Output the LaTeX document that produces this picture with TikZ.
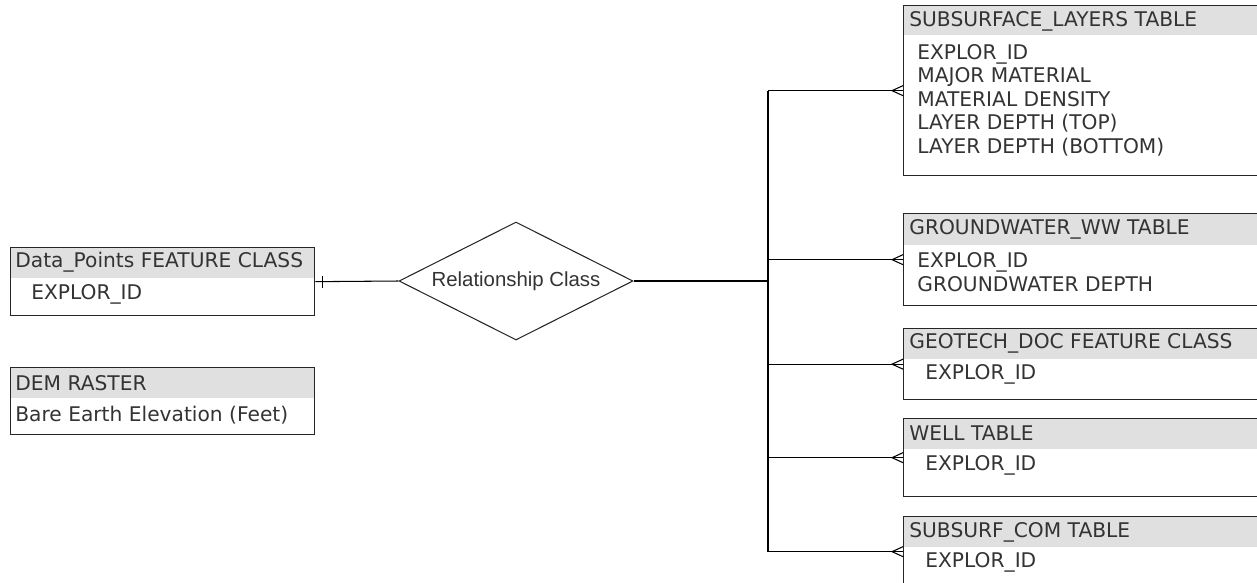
\documentclass[tikz,border=0pt]{standalone}
\usepackage{fontspec}
\usepackage{xcolor}
\usepackage{tikz}
\usetikzlibrary{shapes.geometric, positioning, calc}
\newfontfamily\tabfont{DejaVu Sans}
\newfontfamily\relfont{Liberation Sans}
\definecolor{hdrgray}{HTML}{E0E0E0}
\definecolor{txtgray}{HTML}{333333}
\definecolor{edgegray}{HTML}{262626}
\newcommand{\tfont}{\tabfont\fontsize{11.5}{13.4}\selectfont}

\begin{document}
\begin{tikzpicture}[x=0.02cm, y=-0.02cm]
    \tikzstyle{tbl} = [rectangle, draw=edgegray, line width=0.75pt, anchor=north west, inner sep=0pt]
    \tikzstyle{hdr} = [rectangle, fill=hdrgray, anchor=north west, inner sep=0pt]
    \tikzstyle{txt} = [anchor=west, inner sep=0pt, align=left, text=txtgray, font=\tfont]
    \tikzstyle{rel} = [diamond, aspect=2, draw=edgegray, line width=0.6pt, inner sep=0pt, minimum width=234*0.02cm, minimum height=118*0.02cm, text=txtgray, font=\relfont\fontsize{11.6}{13}\selectfont]
    \tikzstyle{conn} = [draw=black, line width=0.6pt]

    \path [use as bounding box, clip] (0,0) rectangle (1257,582);

    % left side
    \node (dpts-h) [hdr, minimum width=304*0.02cm, minimum height=31*0.02cm] at (10,247) {};
    \node (dpts)   [tbl, minimum width=304*0.02cm, minimum height=68*0.02cm] at (10,247) {};
    \node (dpts-t) [txt] at (15,262) {Data\_Points FEATURE CLASS};
    \node (dpts-b) [txt] at (31,294) {EXPLOR\_ID};

    \node (dem-h) [hdr, minimum width=304*0.02cm, minimum height=31*0.02cm] at (10,367) {};
    \node (dem)   [tbl, minimum width=304*0.02cm, minimum height=67*0.02cm] at (10,367) {};
    \node (dem-t) [txt] at (15,383) {DEM RASTER};
    \node (dem-b) [txt] at (15,415) {Bare Earth Elevation (Feet)};

    \node (rel) [rel] at (516,281) {Relationship Class};
    \coordinate (jn) at (768,281);

    % right side
    \node (subl-h) [hdr, minimum width=370*0.02cm, minimum height=30*0.02cm] at (903,5) {};
    \node (subl)   [tbl, minimum width=370*0.02cm, minimum height=170*0.02cm] at (903,5) {};
    \node (subl-t) [txt] at (909,21) {SUBSURFACE\_LAYERS TABLE};
    \node (subl-b) [txt] at (917,100) {EXPLOR\_ID\\MAJOR MATERIAL\\MATERIAL DENSITY\\LAYER DEPTH (TOP)\\LAYER DEPTH (BOTTOM)};

    \node (gw-h) [hdr, minimum width=370*0.02cm, minimum height=32*0.02cm] at (903,213) {};
    \node (gw)   [tbl, minimum width=370*0.02cm, minimum height=92*0.02cm] at (903,213) {};
    \node (gw-t) [txt] at (909,229) {GROUNDWATER\_WW TABLE};
    \node (gw-b) [txt] at (917,272) {EXPLOR\_ID\\GROUNDWATER DEPTH};

    \node (geo-h) [hdr, minimum width=370*0.02cm, minimum height=31*0.02cm] at (903,328) {};
    \node (geo)   [tbl, minimum width=370*0.02cm, minimum height=71*0.02cm] at (903,328) {};
    \node (geo-t) [txt] at (909,343) {GEOTECH\_DOC FEATURE CLASS};
    \node (geo-b) [txt] at (925,374) {EXPLOR\_ID};

    \node (well-h) [hdr, minimum width=370*0.02cm, minimum height=31*0.02cm] at (903,418) {};
    \node (well)   [tbl, minimum width=370*0.02cm, minimum height=78*0.02cm] at (903,418) {};
    \node (well-t) [txt] at (909,433) {WELL TABLE};
    \node (well-b) [txt] at (925,465) {EXPLOR\_ID};

    \node (scom-h) [hdr, minimum width=370*0.02cm, minimum height=31*0.02cm] at (903,516) {};
    \node (scom)   [tbl, minimum width=370*0.02cm, minimum height=70*0.02cm] at (903,516) {};
    \node (scom-t) [txt] at (909,532) {SUBSURF\_COM TABLE};
    \node (scom-b) [txt] at (925,562) {EXPLOR\_ID};

    % connectors
    \draw [conn] (dpts.east) -- (rel.west);
    \draw [conn] ([xshift=7*0.02cm, yshift=6*0.02cm]dpts.east) -- ([xshift=7*0.02cm, yshift=-6*0.02cm]dpts.east);
    \draw [conn] (rel.east) -- (jn);
    \draw [conn] (jn |- subl.west) -- (jn |- scom.west);
    \foreach \t in {subl, gw, geo, well, scom} {
        \draw [conn] (jn |- \t.west) -- (\t.west);
        % crow's foot
        \draw [conn] ([yshift=5*0.02cm]\t.west) -- ([xshift=-11*0.02cm]\t.west) -- ([yshift=-5*0.02cm]\t.west);
    }
\end{tikzpicture}
\end{document}
